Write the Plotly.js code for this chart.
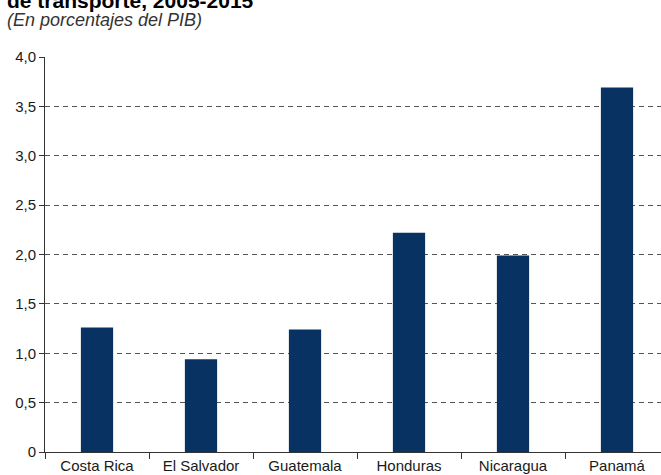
<!DOCTYPE html>
<html>
<head>
<meta charset="utf-8">
<script src="https://cdn.plot.ly/plotly-3.0.1.min.js"></script>
<style>html,body{margin:0;padding:0;background:#fff;}#chart{width:661px;height:475px;}</style>
</head>
<body>
<div id="chart"></div>
<script>
const categories = ["Costa Rica", "El Salvador", "Guatemala", "Honduras", "Nicaragua", "Panamá"];
const values = [1.26, 0.94, 1.24, 2.22, 1.99, 3.69];
const yTickVals = [0, 0.5, 1, 1.5, 2, 2.5, 3, 3.5, 4];
const yTickText = ["0", "0,5", "1,0", "1,5", "2,0", "2,5", "3,0", "3,5", "4,0"];
const titleText = "de transporte, 2005-2015";
const subtitleText = "(En porcentajes del PIB)";

const font = "Liberation Sans, Arial, Helvetica, sans-serif";
const W = 661, H = 475, L = 45, T = 57, B = 23;
const plotH = H - T - B, plotW = W - L;

const trace = {
  type: "bar",
  x: categories,
  y: values,
  width: 0.31,
  marker: {color: "#073262", line: {width: 0}},
  hoverinfo: "none"
};

const layout = {
  width: W, height: H,
  margin: {l: L, r: 0, t: T, b: B, pad: 0},
  paper_bgcolor: "#fff", plot_bgcolor: "#fff",
  showlegend: false,
  separators: ", ",
  font: {family: font, size: 15, color: "#1a1a1a"},
  xaxis: {
    type: "category",
    range: [-0.5, -0.5 + plotW / 104],
    tickson: "boundaries",
    ticks: "outside", ticklen: 6, tickwidth: 1, tickcolor: "#333",
    showline: true, linecolor: "#333", linewidth: 1,
    showgrid: false, zeroline: false,
    tickfont: {family: font, size: 15, color: "#1a1a1a"},
    fixedrange: true
  },
  yaxis: {
    range: [0, 4],
    tickvals: yTickVals, ticktext: yTickText,
    ticks: "outside", ticklen: 5, tickwidth: 1, tickcolor: "#333",
    showline: true, linecolor: "#333", linewidth: 1,
    showgrid: true, gridcolor: "#555", gridwidth: 1, griddash: "5px,4px",
    zeroline: false,
    tickfont: {family: font, size: 15, color: "#1a1a1a"},
    fixedrange: true
  },
  annotations: [
    {text: "<b>" + titleText + "</b>", xref: "paper", yref: "paper",
     x: (5 - L) / plotW, y: 1 + (T - 0) / plotH, xanchor: "left", yanchor: "middle",
     showarrow: false, font: {family: font, size: 21, color: "#000"}},
    {text: "<i>" + subtitleText + "</i>", xref: "paper", yref: "paper",
     x: (5 - L) / plotW, y: 1 + (T - 20) / plotH, xanchor: "left", yanchor: "middle",
     showarrow: false, font: {family: font, size: 18, color: "#333"}}
  ]
};

Plotly.newPlot("chart", [trace], layout, {displayModeBar: false, staticPlot: true});
</script>
</body>
</html>
